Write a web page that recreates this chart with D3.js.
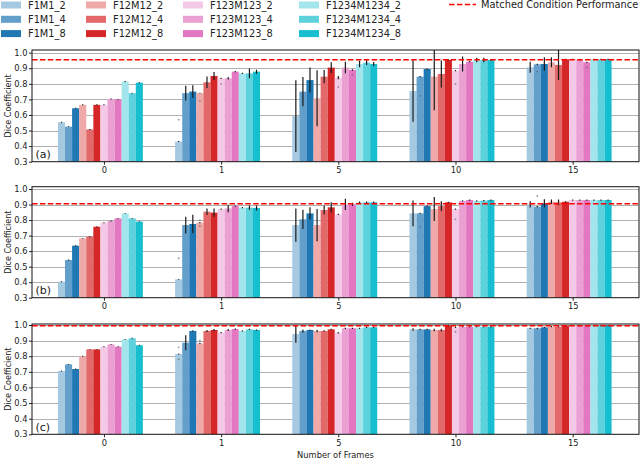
<!DOCTYPE html>
<html>
<head>
<meta charset="utf-8">
<script src="https://cdn.jsdelivr.net/npm/d3@7"></script>
<style>
  body { margin: 0; background: #fff; }
  svg { display: block; font-family: "DejaVu Sans", sans-serif; }
</style>
</head>
<body>
<svg id="chart"></svg>
<script>
const frames = ['0', '1', '5', '10', '15'];
const seriesNames = [
    'F1M1_2', 'F1M1_4', 'F1M1_8',
    'F12M12_2', 'F12M12_4', 'F12M12_8',
    'F123M123_2', 'F123M123_4', 'F123M123_8',
    'F1234M1234_2', 'F1234M1234_4', 'F1234M1234_8'
];
const yTicks = [0.3, 0.4, 0.5, 0.6, 0.7, 0.8, 0.9, 1.0];
const panelTags = ['(a)', '(b)', '(c)'];
const matchedLevels = [0.955, 0.905, 0.995];

// mean dice, one row per frame count, one value per series
const diceA = [
    [0.553, 0.525, 0.643, 0.665, 0.507, 0.665, 0.665, 0.703, 0.700, 0.815, 0.740, 0.807],
    [0.430, 0.740, 0.750, 0.740, 0.810, 0.850, 0.835, 0.835, 0.878, 0.867, 0.867, 0.878],
    [0.593, 0.750, 0.824, 0.707, 0.846, 0.904, 0.840, 0.904, 0.889, 0.927, 0.936, 0.927],
    [0.754, 0.846, 0.895, 0.846, 0.863, 0.953, 0.884, 0.927, 0.942, 0.953, 0.953, 0.953],
    [0.906, 0.925, 0.927, 0.938, 0.921, 0.957, 0.957, 0.953, 0.938, 0.957, 0.957, 0.957]
];
const errA = [
    [0.003, 0.003, 0.003, 0.003, 0.003, 0.003, 0.003, 0.003, 0.003, 0.003, 0.003, 0.003],
    [0.003, 0.047, 0.040, 0.003, 0.037, 0.025, 0.004, 0.008, 0.004, 0.004, 0.032, 0.013],
    [0.230, 0.094, 0.080, 0.180, 0.043, 0.034, 0.010, 0.037, 0.005, 0.021, 0.015, 0.013],
    [0.197, 0.004, 0.004, 0.215, 0.086, 0.004, 0.004, 0.048, 0.004, 0.015, 0.014, 0.004],
    [0.035, 0.004, 0.043, 0.032, 0.097, 0.004, 0.004, 0.004, 0.004, 0.004, 0.004, 0.004]
];
const diceB = [
    [0.403, 0.543, 0.635, 0.682, 0.693, 0.757, 0.783, 0.794, 0.811, 0.843, 0.811, 0.790],
    [0.418, 0.768, 0.775, 0.783, 0.854, 0.848, 0.870, 0.875, 0.890, 0.880, 0.880, 0.878],
    [0.768, 0.805, 0.843, 0.768, 0.865, 0.882, 0.837, 0.901, 0.901, 0.914, 0.914, 0.914],
    [0.843, 0.843, 0.890, 0.871, 0.890, 0.914, 0.871, 0.923, 0.929, 0.923, 0.925, 0.929],
    [0.901, 0.886, 0.908, 0.918, 0.914, 0.918, 0.929, 0.929, 0.929, 0.929, 0.929, 0.929]
];
const errB = [
    [0.003, 0.003, 0.003, 0.003, 0.003, 0.003, 0.003, 0.003, 0.003, 0.003, 0.003, 0.003],
    [0.003, 0.054, 0.059, 0.004, 0.021, 0.027, 0.004, 0.024, 0.004, 0.004, 0.014, 0.016],
    [0.107, 0.062, 0.040, 0.104, 0.029, 0.033, 0.004, 0.036, 0.010, 0.005, 0.005, 0.005],
    [0.083, 0.004, 0.004, 0.077, 0.032, 0.004, 0.004, 0.004, 0.004, 0.004, 0.004, 0.004],
    [0.020, 0.004, 0.026, 0.015, 0.018, 0.004, 0.004, 0.004, 0.004, 0.004, 0.004, 0.004]
];
const diceC = [
    [0.705, 0.748, 0.718, 0.800, 0.844, 0.844, 0.861, 0.876, 0.861, 0.908, 0.915, 0.870],
    [0.814, 0.887, 0.962, 0.882, 0.962, 0.968, 0.951, 0.968, 0.974, 0.962, 0.972, 0.968],
    [0.942, 0.962, 0.968, 0.962, 0.962, 0.972, 0.951, 0.979, 0.979, 0.979, 0.985, 0.985],
    [0.972, 0.972, 0.972, 0.968, 0.968, 0.996, 0.985, 0.989, 0.989, 0.989, 0.989, 0.989],
    [0.979, 0.979, 0.985, 0.989, 0.989, 0.996, 0.996, 0.996, 0.996, 0.996, 0.996, 0.996]
];
const errC = [
    [0.003, 0.003, 0.003, 0.003, 0.003, 0.003, 0.003, 0.003, 0.003, 0.003, 0.003, 0.003],
    [0.003, 0.048, 0.004, 0.004, 0.006, 0.006, 0.004, 0.006, 0.004, 0.004, 0.004, 0.004],
    [0.056, 0.010, 0.004, 0.008, 0.004, 0.004, 0.004, 0.004, 0.004, 0.004, 0.004, 0.004],
    [0.008, 0.004, 0.004, 0.008, 0.008, 0.004, 0.004, 0.004, 0.004, 0.004, 0.004, 0.004],
    [0.004, 0.004, 0.004, 0.004, 0.004, 0.004, 0.004, 0.004, 0.004, 0.004, 0.004, 0.004]
];
// stray points: g = frame index, s = series index
const dotsA = [
    {g: 1, s: 0, v: 0.570}, {g: 1, s: 3, v: 0.690}, {g: 1, s: 6, v: 0.800},
    {g: 2, s: 6, v: 0.780}, {g: 2, s: 8, v: 0.857}, {g: 3, s: 1, v: 0.724},
    {g: 3, s: 6, v: 0.800}, {g: 4, s: 1, v: 0.878}, {g: 4, s: 8, v: 0.906}
];
const dotsB = [
    {g: 1, s: 0, v: 0.554}, {g: 1, s: 3, v: 0.800}, {g: 1, s: 3, v: 0.762},
    {g: 3, s: 1, v: 0.757}, {g: 3, s: 6, v: 0.805}, {g: 4, s: 1, v: 0.955}
];
const dotsC = [
    {g: 1, s: 0, v: 0.857}, {g: 1, s: 0, v: 0.780}, {g: 1, s: 3, v: 0.900},
    {g: 2, s: 6, v: 0.950}, {g: 3, s: 6, v: 0.957}
];

const width = 640;
const height = 459;
const baseColors = ['#1f77b4', '#d62728', '#e377c2', '#17becf'];
const alphas = [0.4, 0.7, 1.0];
const barW = 0.0604;

function seriesColor(i) {
    const c = d3.color(baseColors[Math.floor(i / 3)]);
    const a = alphas[i % 3];
    return d3.rgb(
        255 - (255 - c.r) * a,
        255 - (255 - c.g) * a,
        255 - (255 - c.b) * a
    ).formatHex();
}

const panels = [
    {dice: diceA, err: errA, dots: dotsA, top: 50, bottom: 161.7, yMax: 1.017},
    {dice: diceB, err: errB, dots: dotsB, top: 186.7, bottom: 297.7, yMax: 1.015},
    {dice: diceC, err: errC, dots: dotsC, top: 324, bottom: 434.3, yMax: 1.0065}
];

const svg = d3.select('#chart')
    .attr('width', width)
    .attr('height', height);

const xScale = d3.scaleLinear()
    .domain([-0.614, 4.566])
    .range([32, 639]);

panels.forEach((p, pi) => {
    const yScale = d3.scaleLinear()
        .domain([0.3, p.yMax])
        .range([p.bottom, p.top]);

    const g = svg.append('g');

    const clipId = 'clip' + pi;
    g.append('clipPath').attr('id', clipId)
        .append('rect')
            .attr('x', xScale.range()[0])
            .attr('y', p.top)
            .attr('width', xScale.range()[1] - xScale.range()[0])
            .attr('height', p.bottom - p.top);

    // grid
    g.append('g')
        .selectAll('line')
        .data(yTicks.slice(1))
        .enter()
        .append('line')
            .attr('x1', xScale.range()[0])
            .attr('x2', xScale.range()[1])
            .attr('y1', (d) => Math.round(yScale(d)) + 0.5)
            .attr('y2', (d) => Math.round(yScale(d)) + 0.5)
            .attr('stroke', '#b0b0b0')
            .attr('stroke-width', 1);

    const plot = g.append('g').attr('clip-path', `url(#${clipId})`);

    const barData = [];
    p.dice.forEach((row, gi) => row.forEach((v, si) => {
        barData.push({gi, si, v, e: p.err[gi][si]});
    }));

    plot.selectAll('rect.bar')
        .data(barData)
        .enter()
        .append('rect')
            .attr('class', 'bar')
            .attr('x', (d) => xScale(d.gi + (d.si - 6.5) * barW))
            .attr('width', xScale(barW) - xScale(0))
            .attr('y', (d) => yScale(d.v))
            .attr('height', (d) => yScale(0.3) - yScale(d.v))
            .attr('fill', (d) => seriesColor(d.si));

    plot.selectAll('line.err')
        .data(barData)
        .enter()
        .append('line')
            .attr('class', 'err')
            .attr('x1', (d) => xScale(d.gi + (d.si - 6) * barW))
            .attr('x2', (d) => xScale(d.gi + (d.si - 6) * barW))
            .attr('y1', (d) => yScale(d.v + d.e))
            .attr('y2', (d) => yScale(d.v - d.e))
            .attr('stroke', '#1a1a1a')
            .attr('stroke-width', 1.2);

    plot.selectAll('circle')
        .data(p.dots)
        .enter()
        .append('circle')
            .attr('cx', (d) => xScale(d.g + (d.s - 6) * barW))
            .attr('cy', (d) => yScale(d.v))
            .attr('r', 0.9)
            .attr('fill', '#666')
            .attr('opacity', 0.7);

    // matched condition line
    plot.append('line')
        .attr('x1', xScale.range()[0])
        .attr('x2', xScale.range()[1])
        .attr('y1', yScale(matchedLevels[pi]))
        .attr('y2', yScale(matchedLevels[pi]))
        .attr('stroke', '#ff0000')
        .attr('stroke-width', 1.5)
        .attr('stroke-dasharray', '5.5,2.4');

    // axes
    const xAxis = d3.axisBottom(xScale)
        .tickValues(d3.range(frames.length))
        .tickFormat((i) => frames[i])
        .tickSize(3)
        .tickSizeOuter(0);
    const yAxis = d3.axisLeft(yScale)
        .tickValues(yTicks)
        .tickFormat(d3.format('.1f'))
        .tickSize(3)
        .tickSizeOuter(0);

    const gx = g.append('g')
        .attr('transform', `translate(0, ${p.bottom})`)
        .call(xAxis);
    const gy = g.append('g')
        .attr('transform', `translate(${xScale.range()[0]}, 0)`)
        .call(yAxis);
    [gx, gy].forEach((ax) => {
        ax.select('.domain').remove();
        ax.selectAll('text').attr('font-size', 8.3).attr('fill', '#222')
            .attr('font-family', '"DejaVu Sans", sans-serif');
        ax.selectAll('line').attr('stroke', '#222');
    });
    gy.selectAll('text').attr('x', -4.5);
    gx.selectAll('text').attr('y', 5.5);

    g.append('rect')
        .attr('x', xScale.range()[0])
        .attr('y', p.top)
        .attr('width', xScale.range()[1] - xScale.range()[0])
        .attr('height', p.bottom - p.top)
        .attr('fill', 'none')
        .attr('stroke', '#111')
        .attr('stroke-width', 1);

    g.append('text')
        .attr('x', xScale.range()[0] + 3.5)
        .attr('y', p.bottom - 3.5)
        .attr('font-size', 11)
        .attr('fill', '#222')
        .text(panelTags[pi]);

    g.append('text')
        .attr('transform', 'rotate(-90)')
        .attr('x', -(p.top + p.bottom) / 2)
        .attr('y', 11)
        .style('text-anchor', 'middle')
        .attr('font-size', 8)
        .attr('fill', '#222')
        .text('Dice Coefficient');
});

svg.append('text')
    .attr('x', (xScale.range()[0] + xScale.range()[1]) / 2)
    .attr('y', 458)
    .style('text-anchor', 'middle')
    .attr('font-size', 8.3)
    .attr('fill', '#222')
    .text('Number of Frames');

// legend
const legendSwatchX = [1, 86, 183, 299];
const legend = svg.append('g')
    .selectAll('g')
    .data(seriesNames)
    .enter()
    .append('g')
        .attr('transform', (d, i) =>
            `translate(${legendSwatchX[Math.floor(i / 3)]}, ${5 + (i % 3) * 14.3})`);
legend.append('rect')
    .attr('x', 0)
    .attr('y', -3.5)
    .attr('width', 20)
    .attr('height', 7)
    .attr('fill', (d, i) => seriesColor(i));
legend.append('text')
    .attr('x', 27)
    .attr('y', 3.6)
    .attr('font-size', 9.8)
    .attr('fill', '#222')
    .text((d) => d);

svg.append('line')
    .attr('x1', 449)
    .attr('x2', 476)
    .attr('y1', 4.5)
    .attr('y2', 4.5)
    .attr('stroke', '#ff0000')
    .attr('stroke-width', 1.5)
    .attr('stroke-dasharray', '5.5,2.4');
svg.append('text')
    .attr('x', 481)
    .attr('y', 8)
    .attr('font-size', 9.8)
    .attr('fill', '#222')
    .text('Matched Condition Performance');
</script>
</body>
</html>
